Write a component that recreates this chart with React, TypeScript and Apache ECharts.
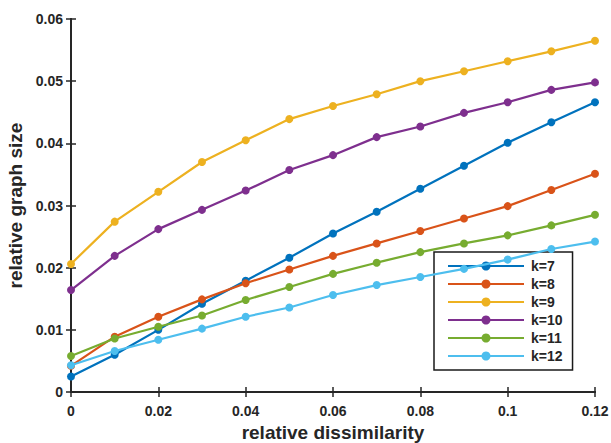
import React, { useEffect, useRef } from "react";
import * as echarts from "echarts";

const xValues = [0, 0.01, 0.02, 0.03, 0.04, 0.05, 0.06, 0.07, 0.08, 0.09, 0.1, 0.11, 0.12];
const seriesNames = ["k=7", "k=8", "k=9", "k=10", "k=11", "k=12"];
const k7 = [0.0025, 0.006, 0.0100, 0.0142, 0.0179, 0.0216, 0.0255, 0.0290, 0.0327, 0.0364, 0.0401, 0.0434, 0.0466];
const k8 = [0.0042, 0.0089, 0.0121, 0.0149, 0.0175, 0.0197, 0.0219, 0.0239, 0.0259, 0.0279, 0.0299, 0.0325, 0.0351];
const k9 = [0.0206, 0.0274, 0.0322, 0.0370, 0.0405, 0.0439, 0.0460, 0.0479, 0.0500, 0.0516, 0.0532, 0.0548, 0.0565];
const k10 = [0.0164, 0.0219, 0.0262, 0.0293, 0.0324, 0.0357, 0.0381, 0.0410, 0.0427, 0.0449, 0.0466, 0.0486, 0.0498];
const k11 = [0.0058, 0.0086, 0.0105, 0.0123, 0.0148, 0.0169, 0.0190, 0.0208, 0.0225, 0.0239, 0.0252, 0.0268, 0.0285];
const k12 = [0.0043, 0.0066, 0.0084, 0.0102, 0.0121, 0.0136, 0.0156, 0.0172, 0.0185, 0.0198, 0.0213, 0.0230, 0.0242];
const seriesValues = [k7, k8, k9, k10, k11, k12];
const colors = ["#0072BD", "#D95319", "#EDB120", "#7E2F8E", "#77AC30", "#4DBEEE"];

const FONT = "Liberation Sans, Arial, sans-serif";

export default function App() {
  const ref = useRef<HTMLDivElement>(null);
  useEffect(() => {
    if (!ref.current) return;
    const chart = echarts.init(ref.current, null, { renderer: "svg" });
    const axisLine = { show: true, lineStyle: { color: "#262626", width: 2 } };
    const axisTickIn = { show: true, inside: true, length: 5, lineStyle: { color: "#262626", width: 1.5 } };
    chart.setOption({
      animation: false,
      backgroundColor: "#ffffff",
      grid: { left: 71, top: 19, right: 16, bottom: 51, containLabel: false, outerBoundsMode: "none" },
      legend: {
        show: true,
        data: seriesNames,
        orient: "vertical",
        left: 434,
        top: 252,
        width: 136,
        padding: [7, 10, 7, 14],
        itemGap: 4,
        itemWidth: 76,
        itemHeight: 14,
        borderColor: "#1a1a1a",
        borderWidth: 1.5,
        backgroundColor: "#ffffff",
        textStyle: { fontFamily: FONT, fontWeight: "bold", fontSize: 14, color: "#262626", padding: [0, 0, 0, 2] },
        icon: "path://M0,6.5 L76,6.5 L76,8.5 L0,8.5 Z M38,3 A4.5,4.5 0 1,1 37.99,3 Z",
      },
      xAxis: [
        {
          type: "value",
          min: 0,
          max: 0.12,
          interval: 0.02,
          position: "bottom",
          axisLine,
          axisTick: axisTickIn,
          splitLine: { show: false },
          axisLabel: {
            fontFamily: FONT, fontWeight: "bold", fontSize: 14, color: "#262626", margin: 12,
            formatter: (v: number) => (v === 0 ? "0" : String(parseFloat(v.toFixed(2)))),
          },
          name: "relative dissimilarity",
          nameLocation: "middle",
          nameGap: 31,
          nameTextStyle: { fontFamily: FONT, fontWeight: "bold", fontSize: 19, color: "#262626" },
        },
        {
          type: "value",
          min: 0,
          max: 0.12,
          interval: 0.02,
          position: "top",
          axisLine,
          axisTick: axisTickIn,
          axisLabel: { show: false },
          splitLine: { show: false },
        },
      ],
      yAxis: [
        {
          type: "value",
          min: 0,
          max: 0.06,
          interval: 0.01,
          position: "left",
          axisLine,
          axisTick: axisTickIn,
          splitLine: { show: false },
          axisLabel: {
            fontFamily: FONT, fontWeight: "bold", fontSize: 14, color: "#262626", margin: 8,
            formatter: (v: number) => (v === 0 ? "0" : v.toFixed(2)),
          },
          name: "relative graph size",
          nameLocation: "middle",
          nameGap: 43,
          nameTextStyle: { fontFamily: FONT, fontWeight: "bold", fontSize: 19, color: "#262626" },
        },
        {
          type: "value",
          min: 0,
          max: 0.06,
          interval: 0.01,
          position: "right",
          axisLine,
          axisTick: axisTickIn,
          axisLabel: { show: false },
          splitLine: { show: false },
        },
      ],
      series: seriesNames.map((name, i) => ({
        name,
        type: "line",
        xAxisIndex: 0,
        yAxisIndex: 0,
        data: xValues.map((x, j) => [x, seriesValues[i][j]]),
        symbol: "circle",
        symbolSize: 8,
        showAllSymbol: true,
        lineStyle: { color: colors[i], width: 2.2 },
        itemStyle: { color: colors[i] },
        clip: false,
        z: 2 + i,
      })),
    });
    return () => chart.dispose();
  }, []);
  return (
    <div style={{ position: "absolute", left: 0, top: 0, width: 611, height: 443, background: "#fff" }}>
      <div ref={ref} style={{ width: 611, height: 443 }} />
    </div>
  );
}
